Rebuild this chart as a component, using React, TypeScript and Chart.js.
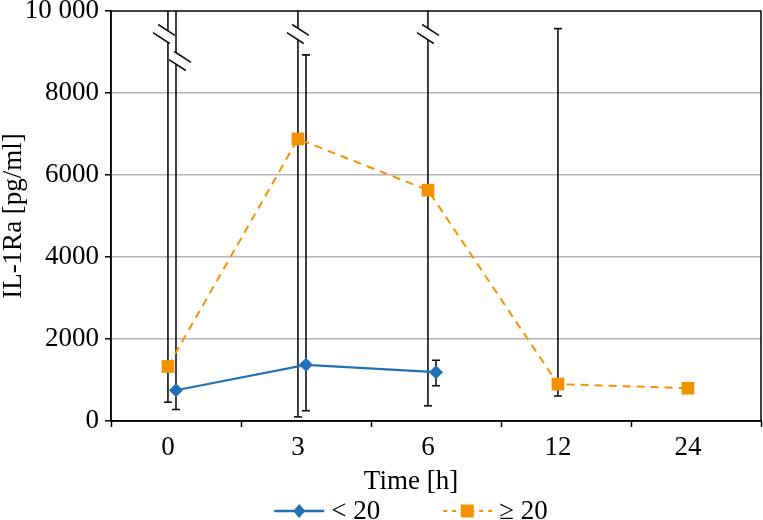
import React, { useEffect, useRef } from 'react';
import { Chart, registerables } from 'chart.js';

Chart.register(...registerables);

// ---- data ----
const categories = ['0', '3', '6', '12', '24'];
const seriesLowLabel = '< 20';
const seriesHighLabel = '≥ 20';
const lowMean: (number | null)[] = [750, 1370, 1190, null, null];
const lowErrMin: (number | null)[] = [280, 250, 860, null, null];
const lowErrMax: (number | null)[] = [15000, 8930, 1480, null, null];
const highMean: (number | null)[] = [1330, 6880, 5630, 900, 800];
const highErrMin: (number | null)[] = [460, 100, 370, 610, null];
const highErrMax: (number | null)[] = [15000, 15000, 15000, 9570, null];
const yTickValues = [0, 2000, 4000, 6000, 8000, 10000];
const yTickLabels = ['0', '2000', '4000', '6000', '8000', '10 000'];
const yMax = 10000;
const xTitle = 'Time [h]';
const yTitle = 'IL-1Ra [pg/ml]';

// ---- styling ----
const FONT = "'Liberation Serif', 'Times New Roman', serif";
const BLUE = '#2171b5';
const ORANGE = '#f39200';
const LOW_SHIFT = 0.0;
const HIGH_SHIFT = -0.062;
const TICK_FONT = 27;

const isInt = (v: number) => Math.abs(v - Math.round(v)) < 1e-6;

const toPoints = (vals: (number | null)[], shift: number) =>
  vals
    .map((v, i) => (v == null ? null : { x: i + shift, y: v }))
    .filter((p) => p !== null) as { x: number; y: number }[];

const series = [
  { key: 'high', mean: highMean, lo: highErrMin, hi: highErrMax, shift: HIGH_SHIFT, breakDepth: 23 },
  { key: 'low', mean: lowMean, lo: lowErrMin, hi: lowErrMax, shift: LOW_SHIFT, breakDepth: 50 },
];

const zeroPad = (scale: any) => {
  scale.paddingTop = 0;
  scale.paddingBottom = 0;
  scale.paddingLeft = 0;
  scale.paddingRight = 0;
};

const overlayPlugin = {
  id: 'overlay',
  beforeDatasetsDraw(chart: any) {
    const { ctx, chartArea } = chart;
    const xs = chart.scales.x;
    const ys = chart.scales.y;
    const dx = 17 / Math.hypot(17, 11);
    const dy = 11 / Math.hypot(17, 11);
    const nx = -dy;
    const ny = dx;
    const h = 4.8;
    const L = 10;
    ctx.save();
    ctx.strokeStyle = '#111';
    ctx.lineWidth = 1.6;
    categories.forEach((_, i) => {
      const bothBroken =
        (highErrMax[i] ?? 0) > yMax && (lowErrMax[i] ?? 0) > yMax;
      series.forEach((s) => {
        const lo = s.lo[i];
        const hi = s.hi[i];
        if (lo == null || hi == null) return;
        const x = xs.getPixelForValue(i + s.shift);
        const yLo = ys.getPixelForValue(lo);
        const broken = hi > yMax;
        const yHi = broken ? chartArea.top : ys.getPixelForValue(hi);
        ctx.beginPath();
        ctx.moveTo(x - 4, yLo);
        ctx.lineTo(x + 4, yLo);
        ctx.stroke();
        if (!broken) {
          ctx.beginPath();
          ctx.moveTo(x, yLo);
          ctx.lineTo(x, yHi);
          ctx.moveTo(x - 4, yHi);
          ctx.lineTo(x + 4, yHi);
          ctx.stroke();
        } else {
          const shiftPx = bothBroken ? (s.key === 'high' ? -4 : 4) : 0;
          const cx = x + shiftPx;
          const cy = chartArea.top + s.breakDepth;
          const p1x = cx - nx * h;
          const p1y = cy - ny * h;
          const p2x = cx + nx * h;
          const p2y = cy + ny * h;
          const y1 = p1y + (x - p1x) * (dy / dx);
          const y2 = p2y + (x - p2x) * (dy / dx);
          ctx.beginPath();
          ctx.moveTo(x, yLo);
          ctx.lineTo(x, y2);
          ctx.moveTo(x, y1);
          ctx.lineTo(x, yHi);
          ctx.stroke();
          ctx.beginPath();
          ctx.moveTo(p1x - dx * L, p1y - dy * L);
          ctx.lineTo(p1x + dx * L, p1y + dy * L);
          ctx.moveTo(p2x - dx * L, p2y - dy * L);
          ctx.lineTo(p2x + dx * L, p2y + dy * L);
          ctx.stroke();
        }
      });
    });
    ctx.restore();
  },
  afterDraw(chart: any) {
    const { ctx, chartArea } = chart;
    ctx.save();
    ctx.strokeStyle = '#000';
    ctx.lineWidth = 1.5;
    ctx.strokeRect(chartArea.left, chartArea.top, chartArea.right - chartArea.left, chartArea.bottom - chartArea.top);
    const centerX = 411;
    ctx.fillStyle = '#000';
    ctx.font = `27px ${FONT}`;
    ctx.textAlign = 'center';
    ctx.textBaseline = 'alphabetic';
    ctx.fillText(xTitle, centerX, 489);
    ctx.font = `27px ${FONT}`;
    const sampleW = 50;
    const textGap = 7;
    const itemGap = 62;
    const w1 = ctx.measureText(seriesLowLabel).width;
    const w2 = ctx.measureText(seriesHighLabel).width;
    const total = sampleW + textGap + w1 + itemGap + sampleW + textGap + w2;
    let x0 = centerX - total / 2;
    const ly = 511;
    ctx.strokeStyle = BLUE;
    ctx.lineWidth = 2.5;
    ctx.beginPath();
    ctx.moveTo(x0, ly);
    ctx.lineTo(x0 + sampleW, ly);
    ctx.stroke();
    ctx.fillStyle = BLUE;
    const mx = x0 + sampleW / 2;
    ctx.beginPath();
    ctx.moveTo(mx, ly - 7);
    ctx.lineTo(mx + 6, ly);
    ctx.lineTo(mx, ly + 7);
    ctx.lineTo(mx - 6, ly);
    ctx.closePath();
    ctx.fill();
    ctx.fillStyle = '#000';
    ctx.textAlign = 'left';
    ctx.textBaseline = 'alphabetic';
    ctx.fillText(seriesLowLabel, x0 + sampleW + textGap, 519);
    x0 += sampleW + textGap + w1 + itemGap;
    ctx.strokeStyle = ORANGE;
    ctx.lineWidth = 2;
    ctx.setLineDash([4, 5]);
    ctx.lineDashOffset = -1;
    ctx.beginPath();
    ctx.moveTo(x0, ly);
    ctx.lineTo(x0 + sampleW, ly);
    ctx.stroke();
    ctx.setLineDash([]);
    ctx.fillStyle = ORANGE;
    const ox = x0 + sampleW / 2;
    ctx.fillRect(ox - 6.5, ly - 6.5, 13, 13);
    ctx.fillStyle = '#000';
    ctx.fillText(seriesHighLabel, x0 + sampleW + textGap, 519);
    ctx.restore();
  },
};

export default function App() {
  const ref = useRef<HTMLCanvasElement>(null);
  useEffect(() => {
    const chart = new Chart(ref.current!, {
      type: 'line',
      data: {
        datasets: [
          {
            label: seriesLowLabel,
            data: toPoints(lowMean, LOW_SHIFT),
            borderColor: BLUE,
            backgroundColor: BLUE,
            borderWidth: 2.2,
            pointStyle: 'rectRot',
            pointRadius: 7,
            pointBorderWidth: 0,
            tension: 0,
          },
          {
            label: seriesHighLabel,
            data: toPoints(highMean, HIGH_SHIFT),
            borderColor: ORANGE,
            backgroundColor: ORANGE,
            borderWidth: 2,
            borderDash: [8, 6],
            pointStyle: 'rect',
            pointRadius: 9,
            pointBorderWidth: 0,
            tension: 0,
          },
        ],
      },
      options: {
        responsive: true,
        maintainAspectRatio: false,
        animation: false,
        layout: { autoPadding: false, padding: { top: 11, right: 2, left: 0, bottom: 0 } },
        plugins: {
          legend: { display: false },
          tooltip: { enabled: false },
        },
        scales: {
          x: {
            type: 'linear',
            min: -0.5,
            max: 4.5,
            afterBuildTicks: (scale: any) => {
              const t = [];
              for (let v = -0.5; v <= 4.5 + 1e-9; v += 0.5) t.push({ value: v });
              scale.ticks = t;
            },
            afterFit: (scale: any) => {
              scale.height = 99;
              zeroPad(scale);
            },
            ticks: {
              autoSkip: false,
              maxRotation: 0,
              labelOffset: -8,
              padding: 5,
              color: '#000',
              font: { family: FONT, size: TICK_FONT },
              callback: (v: any) => (isInt(Number(v)) ? categories[Math.round(Number(v))] : ''),
            },
            grid: {
              drawOnChartArea: false,
              drawTicks: true,
              tickLength: 6,
              tickWidth: 1.5,
              tickColor: (c: any) => (c.tick && isInt(c.tick.value) ? 'rgba(0,0,0,0)' : '#000'),
            },
            border: { color: '#000', width: 1.5 },
          },
          y: {
            type: 'linear',
            min: 0,
            max: yMax,
            afterBuildTicks: (scale: any) => {
              scale.ticks = yTickValues.map((v) => ({ value: v }));
            },
            afterFit: (scale: any) => {
              scale.width = 111;
              zeroPad(scale);
            },
            ticks: {
              padding: 6,
              color: '#000',
              font: { family: FONT, size: TICK_FONT },
              callback: (v: any) => {
                const idx = yTickValues.indexOf(Number(v));
                return idx >= 0 ? yTickLabels[idx] : '';
              },
            },
            grid: {
              color: (c: any) =>
                c.tick && (c.tick.value === 0 || c.tick.value === yMax) ? 'rgba(0,0,0,0)' : '#b5b5b5',
              lineWidth: 1.5,
              drawTicks: true,
              tickLength: 6,
              tickWidth: 1.5,
              tickColor: '#000',
            },
            border: { color: '#000', width: 1.5 },
            title: {
              display: true,
              text: yTitle,
              color: '#000',
              font: { family: FONT, size: TICK_FONT, lineHeight: 1 },
              padding: 0,
            },
          },
        },
      },
      plugins: [overlayPlugin],
    });
    return () => chart.destroy();
  }, []);
  return (
    <div style={{ position: 'fixed', left: 0, top: 0, width: 763, height: 520 }}>
      <canvas ref={ref} />
    </div>
  );
}
